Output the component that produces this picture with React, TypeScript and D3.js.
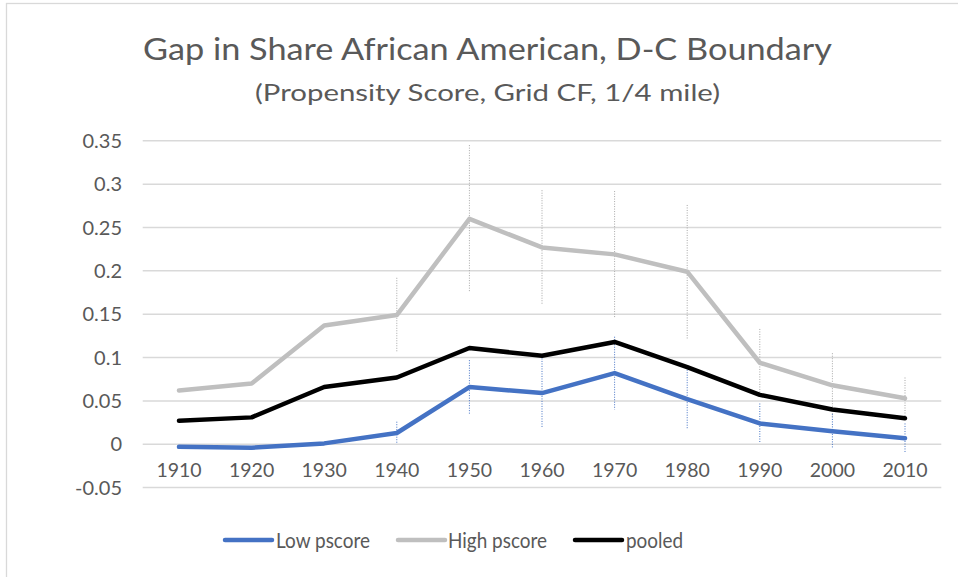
import React from "react";
import * as d3 from "d3";

const years = ["1910","1920","1930","1940","1950","1960","1970","1980","1990","2000","2010"];
const lowValues = [-0.003,-0.004,0.001,0.013,0.066,0.059,0.082,0.052,0.024,0.015,0.007];
const highValues = [0.062,0.070,0.137,0.149,0.260,0.227,0.219,0.199,0.094,0.068,0.053];
const pooledValues = [0.027,0.031,0.066,0.077,0.111,0.102,0.118,0.089,0.057,0.040,0.030];
const lowErr = [null,null,null,0.013,0.031,0.040,0.042,0.034,0.023,0.020,0.017];
const highErr = [null,null,null,0.043,0.085,0.066,0.073,0.077,0.039,0.037,0.024];
const yTicks = [-0.05,0,0.05,0.1,0.15,0.2,0.25,0.3,0.35];
const title = "Gap in Share African American, D-C Boundary";
const subtitle = "(Propensity Score, Grid CF, 1/4 mile)";

const series = [
  { name: "Low pscore", values: lowValues, err: lowErr, color: "#4472C4", errColor: "#4472C4" },
  { name: "High pscore", values: highValues, err: highErr, color: "#BFBFBF", errColor: "#A6A6A6" },
  { name: "pooled", values: pooledValues, err: null as (number | null)[] | null, color: "#000000", errColor: "#000" },
];

const W = 958, H = 577;
const FONT = "Lato, Open Sans, sans-serif";

export default function App() {
  const x = d3.scaleBand<string>().domain(years).range([142.7, 941.3]);
  const y = d3.scaleLinear().domain([-0.05, 0.35]).range([487.6, 140.8]);
  const cx = (yr: string) => (x(yr) as number) + x.bandwidth() / 2;
  const line = d3.line<number>().x((_, i) => cx(years[i])).y((v) => y(v));

  const legendItems = [
    { s: series[0], x0: 225, tx: 276, tl: 94 },
    { s: series[1], x0: 398, tx: 448, tl: 99 },
    { s: series[2], x0: 575, tx: 626, tl: 57 },
  ];

  return (
    <svg width={W} height={H} style={{ position: "absolute", left: 0, top: 0, background: "#fff" }} fontFamily={FONT}>
      <rect x={6.5} y={3.5} width={W + 10} height={H + 10} fill="#fff" stroke="#D9D9D9" strokeWidth={1.3} />
      <text x={487.5} y={60} textAnchor="middle" fontSize={30} fill="#595959" textLength={689} lengthAdjust="spacingAndGlyphs">{title}</text>
      <text x={487.5} y={101} textAnchor="middle" fontSize={23.5} fill="#595959" textLength={465} lengthAdjust="spacingAndGlyphs">{subtitle}</text>
      {yTicks.map((t) => (
        <g key={t}>
          <line x1={142.7} x2={941.3} y1={y(t)} y2={y(t)} stroke="#D9D9D9" strokeWidth={1.5} />
          <text x={122} y={y(t) + 7} textAnchor="end" fontSize={20} fill="#595959">{t}</text>
        </g>
      ))}
      {years.map((yr) => (
        <text key={yr} x={cx(yr)} y={477} textAnchor="middle" fontSize={19.5} fill="#595959">{yr}</text>
      ))}
      {series.map((s) =>
        s.err
          ? s.values.map((v, i) => {
              const e = s.err![i];
              if (e == null) return null;
              return (
                <line key={s.name + i} x1={cx(years[i])} x2={cx(years[i])} y1={y(v + e)} y2={y(v - e)}
                  stroke={s.errColor} strokeWidth={1} strokeDasharray="1,1.5" />
              );
            })
          : null
      )}
      {series.map((s) => (
        <path key={s.name} d={line(s.values) as string} fill="none" stroke={s.color} strokeWidth={4.5}
          strokeLinecap="round" strokeLinejoin="round" />
      ))}
      {legendItems.map(({ s, x0, tx, tl }) => (
        <g key={s.name}>
          <line x1={x0} x2={x0 + 47} y1={540} y2={540} stroke={s.color} strokeWidth={4.5} strokeLinecap="round" />
          <text x={tx} y={547.5} fontSize={21} fill="#595959" textLength={tl} lengthAdjust="spacingAndGlyphs">{s.name}</text>
        </g>
      ))}
    </svg>
  );
}
